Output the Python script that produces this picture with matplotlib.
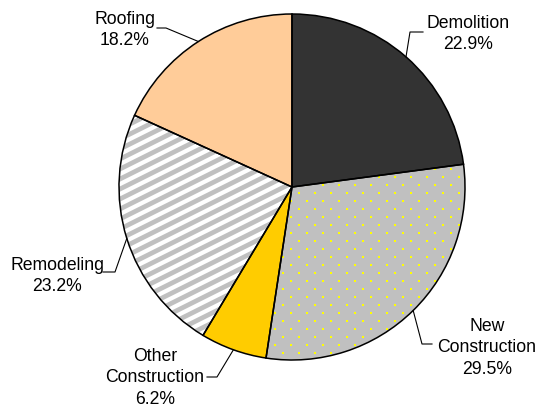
import numpy as np
import matplotlib.pyplot as plt
from matplotlib.patches import Wedge

plt.rcParams['font.family'] = ['Liberation Sans', 'DejaVu Sans']

# datos del grafico
categorias = ['Demolition', 'New\nConstruction', 'Other\nConstruction', 'Remodeling', 'Roofing']
porcentajes = [22.9, 29.5, 6.2, 23.2, 18.2]
colores = ['#333333', '#C0C0C0', '#FFCC00', '#FFFFFF', '#FFCC99']

# layout en pixeles de la imagen (y hacia abajo)
W, H = 539, 410
CX, CY, R = 292, 188, 173
pos_etiqueta = [(468, 34), (487, 348), (155, 378), (57, 276), (125, 30)]
codo = [(410, 33), (422, 345), (217, 378), (115, 273), (166, 29)]
fin_linea = [(423, 33), (432, 345), (207, 378), (103, 273), (157, 29)]


def iy(y):
    return H - y


fig = plt.figure(figsize=(W / 100, H / 100), dpi=100)
ax = fig.add_axes([0, 0, 1, 1])

wedges, _ = ax.pie(porcentajes, startangle=90, counterclock=False,
                   center=(CX, iy(CY)), radius=R, colors=colores,
                   wedgeprops=dict(linewidth=0), frame=True)
ax.set_xlim(0, W)
ax.set_ylim(0, H)
ax.axis('off')

# puntos amarillos en New Construction
xs, ys = [], []
for j, y in enumerate(np.arange(0, H + 8, 8)):
    off = 0 if j % 2 == 0 else 8
    for x in np.arange(3 + off, W + 16, 16):
        xs.append(x)
        ys.append(y)
pts = ax.scatter(xs, ys, s=2.3, marker='s', c='#FFFF00', linewidths=0, zorder=3)
pts.set_clip_path(wedges[1])

# rayas diagonales en Remodeling
pendiente = 0.5
for b in np.arange(-600, 600, 10):
    x0, x1 = 0, W
    ln, = ax.plot([x0, x1], [b + pendiente * x0, b + pendiente * x1],
                  color='#C0C0C0', linewidth=3.4, solid_capstyle='butt', zorder=3)
    ln.set_clip_path(wedges[3])

# bordes negros
angulo = 90
for p in porcentajes:
    ang = p / 100 * 360
    w = Wedge((CX, iy(CY)), R, angulo - ang, angulo, facecolor='none',
              edgecolor='black', linewidth=1.1, zorder=4)
    ax.add_patch(w)
    angulo -= ang

# etiquetas y lineas guia
angulo = 90
for i, p in enumerate(porcentajes):
    ang = p / 100 * 360
    medio = np.deg2rad(angulo - ang / 2)
    angulo -= ang
    x_borde = CX + R * np.cos(medio)
    y_borde = iy(CY) + R * np.sin(medio)
    ax.plot([x_borde, codo[i][0], fin_linea[i][0]],
            [y_borde, iy(codo[i][1]), iy(fin_linea[i][1])],
            color='black', linewidth=0.8, zorder=5)
    ax.text(pos_etiqueta[i][0], iy(pos_etiqueta[i][1]),
            f'{categorias[i]}\n{p:.1f}%', ha='center', va='center',
            multialignment='center', fontsize=12.7, linespacing=1.35, zorder=6)

plt.savefig('out.png', dpi=100)
